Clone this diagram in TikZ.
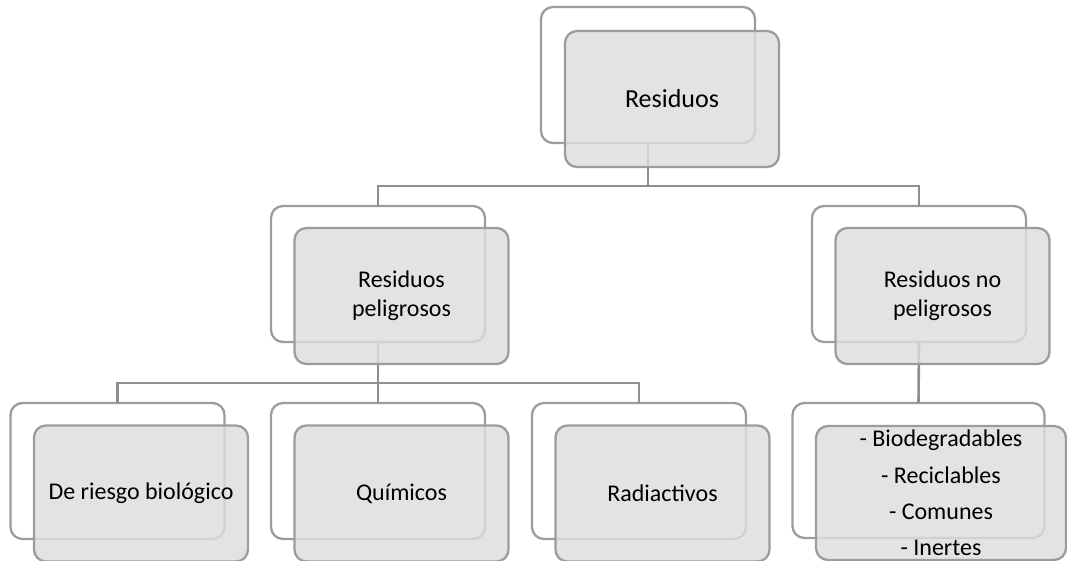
\documentclass[tikz,border=0pt]{standalone}
\usepackage{fontspec}
\setmainfont{Carlito}
\definecolor{boxline}{HTML}{9C9C9C}
\definecolor{connline}{HTML}{8E8E8E}
\definecolor{boxfill}{HTML}{DDDDDD}
\tikzset{
  backbox/.style={draw=boxline, line width=2.3pt, fill=white, rounded corners=12pt,
    minimum width=214pt, minimum height=136pt, inner sep=0pt, outer sep=0pt},
  frontbox/.style={draw=boxline, line width=2.3pt, fill=boxfill, fill opacity=0.82,
    draw opacity=1, text opacity=1, rounded corners=12pt,
    minimum width=214pt, minimum height=136pt, inner sep=0pt, outer sep=0pt,
    align=center, font=\fontsize{24}{29}\selectfont},
  conn/.style={draw=connline, line width=2.6pt}
}
\begin{document}
\begin{tikzpicture}[x=1pt, y=-1pt]
\useasboundingbox (0,0) rectangle (1067,561);
% back boxes
\node[backbox] (topb) at (648,75) {};
\node[backbox] (plb) at (378,274) {};
\node[backbox] (nplb) at (919,274) {};
\node[backbox] (bioB) at (117.5,471) {};
\node[backbox] (quiB) at (378,471) {};
\node[backbox] (radB) at (639,471) {};
\node[backbox, minimum width=252pt, minimum height=135pt] (listB) at (918.5,470.5) {};
% connectors
\draw[conn] (topb.south) |- ([yshift=20pt]plb.north) -- (plb.north);
\draw[conn] (topb.south) |- ([yshift=20pt]nplb.north) -- (nplb.north);
\draw[conn] (plb.south) |- ([yshift=20pt]bioB.north) -- (bioB.north);
\draw[conn] (plb.south) -- (quiB.north);
\draw[conn] (plb.south) |- ([yshift=20pt]radB.north) -- (radB.north);
\draw[conn] (nplb.south) -- (listB.north);
% front boxes
\node[frontbox, font=\fontsize{26}{31}\selectfont] (top) at ([shift={(24,24)}]topb.center) {Residuos};
\node[frontbox] (pl) at ([shift={(23.5,22)}]plb.center) {Residuos\\peligrosos};
\node[frontbox] (npl) at ([shift={(23.5,22)}]nplb.center) {Residuos no\\peligrosos};
\node[frontbox] (bio) at ([shift={(23.5,22.5)}]bioB.center) {De riesgo biológico};
\node[frontbox] (qui) at ([shift={(23.5,22.5)}]quiB.center) {Químicos};
\node[frontbox] (rad) at ([shift={(23.5,22.5)}]radB.center) {Radiactivos};
\node[frontbox, minimum width=250pt, minimum height=134pt, font=\fontsize{24}{36.4}\selectfont]
  (list) at ([shift={(22.5,22.5)}]listB.center)
  {- Biodegradables\\- Reciclables\\- Comunes\\- Inertes};
\end{tikzpicture}
\end{document}
